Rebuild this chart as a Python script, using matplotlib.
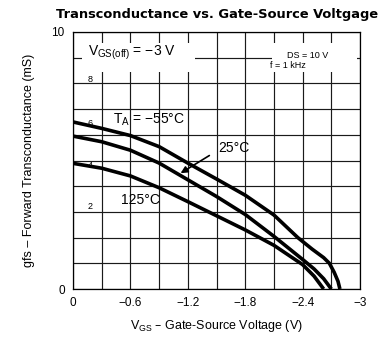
import matplotlib
matplotlib.use("Agg")
from matplotlib import pyplot as plt
from matplotlib.patches import Rectangle

plt.rcParams['font.family'] = ['Liberation Sans', 'DejaVu Sans']

# data (VGS in V, gfs in mS)
vgs_m55 = [0, -0.3, -0.6, -0.9, -1.2, -1.5, -1.8, -2.1, -2.35, -2.5, -2.62, -2.68, -2.73, -2.77, -2.79]
gfs_m55 = [6.5, 6.25, 5.97, 5.54, 4.9, 4.28, 3.65, 2.88, 2.0, 1.55, 1.22, 1.0, 0.65, 0.3, 0.0]

vgs_25 = [0, -0.3, -0.6, -0.9, -1.2, -1.5, -1.8, -2.1, -2.4, -2.52, -2.62, -2.7]
gfs_25 = [5.95, 5.73, 5.4, 4.9, 4.25, 3.6, 2.9, 2.05, 1.15, 0.78, 0.4, 0.0]

vgs_125 = [0, -0.3, -0.6, -0.9, -1.2, -1.5, -1.8, -2.1, -2.4, -2.52, -2.62]
gfs_125 = [4.89, 4.7, 4.4, 3.94, 3.4, 2.85, 2.3, 1.7, 0.95, 0.5, 0.0]

xgrid = [-0.3 * i for i in range(11)]
xtick_labels = ['0', '', '\u22120.6', '', '\u22121.2', '', '\u22121.8', '', '\u22122.4', '', '\u22123']
ygrid = list(range(11))
ytick_labels = ['0'] + [''] * 9 + ['10']

fig = plt.figure(figsize=(3.89, 3.40), dpi=100)
ax = fig.add_axes([73 / 389, 51 / 340, 287 / 389, 257 / 340])
ax.set_xlim(0, -3)
ax.set_ylim(0, 10)

ax.set_xticks(xgrid)
ax.set_xticklabels(xtick_labels)
ax.set_yticks(ygrid)
ax.set_yticklabels(ytick_labels)
ax.tick_params(length=0, labelsize=8.5, pad=6)
ax.grid(True, color='#1a1a1a', linewidth=0.85)
ax.set_axisbelow(True)
for s in ax.spines.values():
    s.set_linewidth(0.9)

# white label boxes covering the grid
for x0, w in [(-0.09, -1.19), (-2.08, -0.89)]:
    ax.add_patch(Rectangle((x0, 8.44), w, 1.13, facecolor='white', edgecolor='none', zorder=1.5))

lw = 2.6
for xs, ys in [(vgs_m55, gfs_m55), (vgs_25, gfs_25), (vgs_125, gfs_125)]:
    ax.plot(xs, ys, color='black', lw=lw, zorder=3, solid_joinstyle='round', solid_capstyle='butt')

ax.text(-0.16, 9.2, 'V$_\\mathregular{GS(off)}$ = \u22123 V',
        fontsize=10, va='center', ha='left', zorder=4)
ax.text(-2.24, 9.1, 'DS = 10 V', fontsize=6.5, va='center', ha='left', zorder=4)
ax.text(-2.06, 8.68, 'f = 1 kHz', fontsize=6.5, va='center', ha='left', zorder=4)
for lab, yy in [('8', 8.15), ('6', 6.45), ('4', 4.8), ('2', 3.2)]:
    ax.text(-0.18, yy, lab, fontsize=6.5, va='center', ha='center', zorder=2)

ax.text(-0.42, 6.6, 'T$_\\mathregular{A}$ = \u221255\u00b0C',
        fontsize=10, va='center', ha='left', zorder=4)
ax.text(-1.52, 5.5, '25\u00b0C', fontsize=10, va='center', ha='left', zorder=4)
ax.annotate('', xy=(-1.1, 4.45), xytext=(-1.45, 5.25),
            arrowprops=dict(arrowstyle='-|>', color='black', lw=1.2, mutation_scale=10), zorder=4)
ax.text(-0.5, 3.45, '125\u00b0C', fontsize=10, va='center', ha='left', zorder=4)

ax.set_xlabel('V$_\\mathregular{GS}$ \u2013 Gate-Source Voltage (V)', fontsize=9, labelpad=6)
ax.set_ylabel('gfs \u2013 Forward Transconductance (mS)', fontsize=9, labelpad=12)

fig.text(0.557, 0.956, 'Transconductance vs. Gate-Source Voltgage', fontsize=9.4,
         fontweight='heavy', ha='center', va='center', family='DejaVu Sans')

fig.savefig('out.png', dpi=100)
